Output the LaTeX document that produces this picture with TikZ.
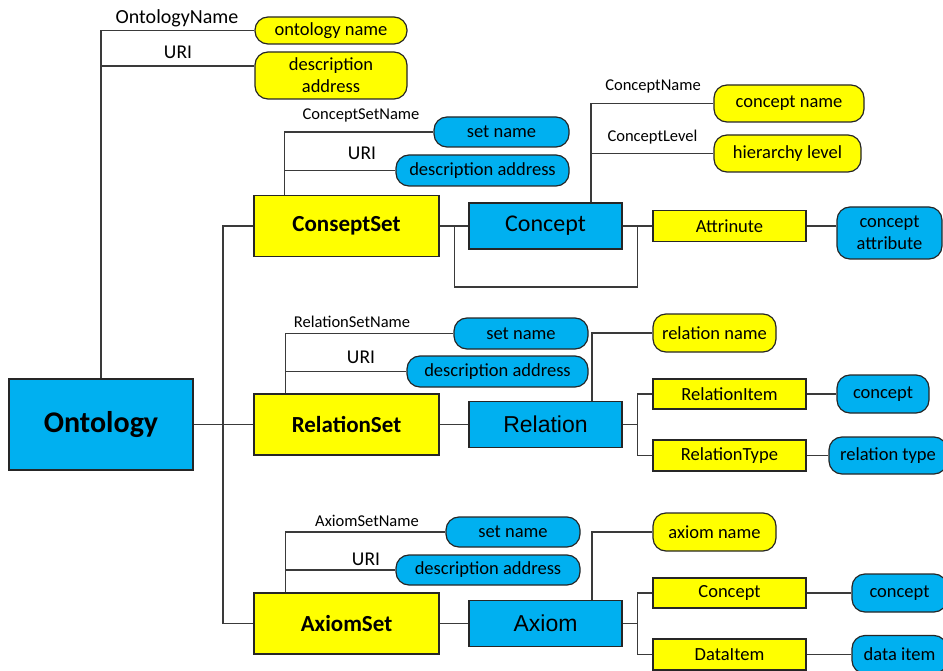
\documentclass[tikz,border=0pt]{standalone}
\usepackage{fontspec}
\setmainfont{Carlito}
\newfontfamily\arialfont{Liberation Sans}
\definecolor{boxblue}{HTML}{00B0F0}
\definecolor{boxyellow}{HTML}{FFFF00}
\definecolor{linegray}{HTML}{3A3A3A}
\definecolor{edgegray}{HTML}{262626}
\newcommand{\fsz}[1]{\fontsize{#1}{#1}\selectfont}
\newcommand{\fszl}[2]{\fontsize{#1}{#2}\selectfont}
\begin{document}
\begin{tikzpicture}[x=1pt,y=-1pt,
  base/.style={draw=edgegray,line width=1.2pt,inner sep=0pt,align=center,text=black},
  sqbox/.style={base,rectangle},
  pill/.style={base,rounded corners=13pt},
  blue/.style={fill=boxblue},
  yellow/.style={fill=boxyellow},
  mid/.style={font=\fsz{18.5}},
  twoline/.style={font=\fszl{18.5}{22}},
  lbl/.style={inner sep=0pt,font=\fsz{16.5},text=black},
  urilbl/.style={inner sep=0pt,font=\fsz{19.5},text=black},
  ln/.style={draw=linegray,line width=1.2pt},
  setbox/.style={sqbox,yellow,minimum width=185pt,minimum height=61pt,font=\bfseries\fsz{23}},
  elbox/.style={sqbox,blue,minimum width=153pt,minimum height=46pt},
  itembox/.style={sqbox,yellow,mid,minimum width=153pt,minimum height=30pt}
]
\useasboundingbox (0,0) rectangle (943,671);

% ---------- root ----------
\node[sqbox,blue,minimum width=184pt,minimum height=91pt,font=\bfseries\fsz{30}] (ont) at (101,424.5) {Ontology};
\node[pill,yellow,mid,minimum width=152pt,minimum height=27pt] (oname) at (331,30.5) {ontology name};
\node[pill,yellow,twoline,minimum width=152pt,minimum height=47pt] (odesc) at (331,75.5) {description\\address};
\node[inner sep=0pt,font=\fsz{20}] (lonto) at (177,18) {OntologyName};
\node[urilbl] (lonturi) at (178,52) {URI};

% ---------- concept set ----------
\node[setbox] (cs) at (346.5,226) {ConseptSet};
\node[pill,blue,mid,minimum width=135pt,minimum height=30pt] (csname) at (501.5,132) {set name};
\node[pill,blue,mid,minimum width=173pt,minimum height=31pt] (csdesc) at (482.5,170.5) {description address};
\node[lbl] (lcsn) at (361,115) {ConceptSetName};
\node[urilbl] (lcsu) at (362,153) {URI};
\node[elbox,font=\fsz{24}] (con) at (545.5,226) {Concept};
\node[sqbox,yellow,mid,minimum width=153pt,minimum height=31pt] (attr) at (729.5,226) {Attrinute};
\node[pill,blue,twoline,minimum width=105pt,minimum height=52pt] (cattr) at (889.5,233) {concept\\attribute};
\node[pill,yellow,mid,minimum width=150pt,minimum height=37pt] (cname) at (789,103.5) {concept name};
\node[pill,yellow,mid,minimum width=147pt,minimum height=37pt] (hlevel) at (787.5,153.5) {hierarchy level};
\node[lbl] (lcn) at (653,86) {ConceptName};
\node[lbl] (lcl) at (652.5,137) {ConceptLevel};

% ---------- relation set ----------
\node[setbox] (rs) at (346.5,424.5) {RelationSet};
\node[pill,blue,mid,minimum width=134pt,minimum height=31pt] (rsname) at (521,333.5) {set name};
\node[pill,blue,mid,minimum width=181pt,minimum height=31pt] (rsdesc) at (497.5,371.5) {description address};
\node[lbl] (lrsn) at (352,322) {RelationSetName};
\node[urilbl] (lrsu) at (361,357) {URI};
\node[elbox,font=\arialfont\fsz{23}] (rel) at (545.5,424.5) {Relation};
\node[pill,yellow,mid,minimum width=123pt,minimum height=38pt] (rname) at (714.5,333) {relation name};
\node[itembox] (ritem) at (729.5,394) {RelationItem};
\node[itembox,minimum height=31pt] (rtype) at (729.5,455.5) {RelationType};
\node[pill,blue,mid,minimum width=92pt,minimum height=38pt] (rcon) at (883,394) {concept};
\node[pill,blue,mid,minimum width=118pt,minimum height=37pt] (rtv) at (888,455.5) {relation type};

% ---------- axiom set ----------
\node[setbox] (as) at (346.5,623.5) {AxiomSet};
\node[pill,blue,mid,minimum width=134pt,minimum height=30pt] (asname) at (513,532) {set name};
\node[pill,blue,mid,minimum width=184pt,minimum height=30pt] (asdesc) at (488,570) {description address};
\node[lbl] (lasn) at (367,521) {AxiomSetName};
\node[urilbl] (lasu) at (366,559) {URI};
\node[elbox,font=\arialfont\fsz{23}] (ax) at (545.5,623.5) {Axiom};
\node[pill,yellow,mid,minimum width=123pt,minimum height=38pt] (aname) at (714.5,532) {axiom name};
\node[itembox] (acon) at (729.5,593) {Concept};
\node[itembox,minimum height=31pt] (adata) at (729.5,654.5) {DataItem};
\node[pill,blue,mid,minimum width=95pt,minimum height=38pt] (acv) at (899.5,593) {concept};
\node[pill,blue,mid,minimum width=95pt,minimum height=38pt] (adv) at (899.5,654.5) {data item};

% ---------- connectors ----------
% root attributes
\draw[ln] (ont.north) |- (oname.west);
\draw[ln] ([yshift=9.5pt]odesc.west) -| (ont.north);
% trunk to the three sets
\coordinate (trunk) at (223,424.5);
\draw[ln] (ont.east) -- (rs.west);
\draw[ln] (cs.west) -| (trunk) |- (as.west);

% concept set
\coordinate (csv) at ([xshift=31pt]cs.north west);
\draw[ln] (csv) |- (csname.west);
\draw[ln] (csv |- csdesc.west) -- (csdesc.west);
\draw[ln] (cs.east) -- (con.west);
\draw[ln] (con.east) -- (attr.west);
\draw[ln] ([xshift=15pt]cs.east) -- ++(0,61) -| ([xshift=-15pt]attr.west);
\draw[ln] (attr.east) -- (attr.east -| cattr.west);
\coordinate (conv) at ([xshift=45.5pt]con.north);
\draw[ln] (conv) |- (cname.west);
\draw[ln] (conv |- hlevel.west) -- (hlevel.west);

% relation set
\coordinate (rsv) at ([xshift=32pt]rs.north west);
\draw[ln] (rsv) |- (rsname.west);
\draw[ln] (rsv |- rsdesc.west) -- (rsdesc.west);
\draw[ln] (rs.east) -- (rel.west);
\coordinate (relv) at ([xshift=46.5pt]rel.north);
\draw[ln] (relv) |- (rname.west);
\coordinate (relf) at ([xshift=15pt]rel.east);
\draw[ln] (rel.east) -- (relf);
\draw[ln] (ritem.west) -| (relf) |- (rtype.west);
\draw[ln] (ritem.east) -- (rcon.west);
\draw[ln] (rtype.east) -- (rtv.west);

% axiom set
\coordinate (asv) at ([xshift=32pt]as.north west);
\draw[ln] (asv) |- (asname.west);
\draw[ln] (asv |- asdesc.west) -- (asdesc.west);
\draw[ln] (as.east) -- (ax.west);
\coordinate (axv) at ([xshift=46.5pt]ax.north);
\draw[ln] (axv) |- (aname.west);
\coordinate (axf) at ([xshift=15pt]ax.east);
\draw[ln] (ax.east) -- (axf);
\draw[ln] (acon.west) -| (axf) |- (adata.west);
\draw[ln] (acon.east) -- (acv.west);
\draw[ln] (adata.east) -- (adv.west);
\end{tikzpicture}
\end{document}
